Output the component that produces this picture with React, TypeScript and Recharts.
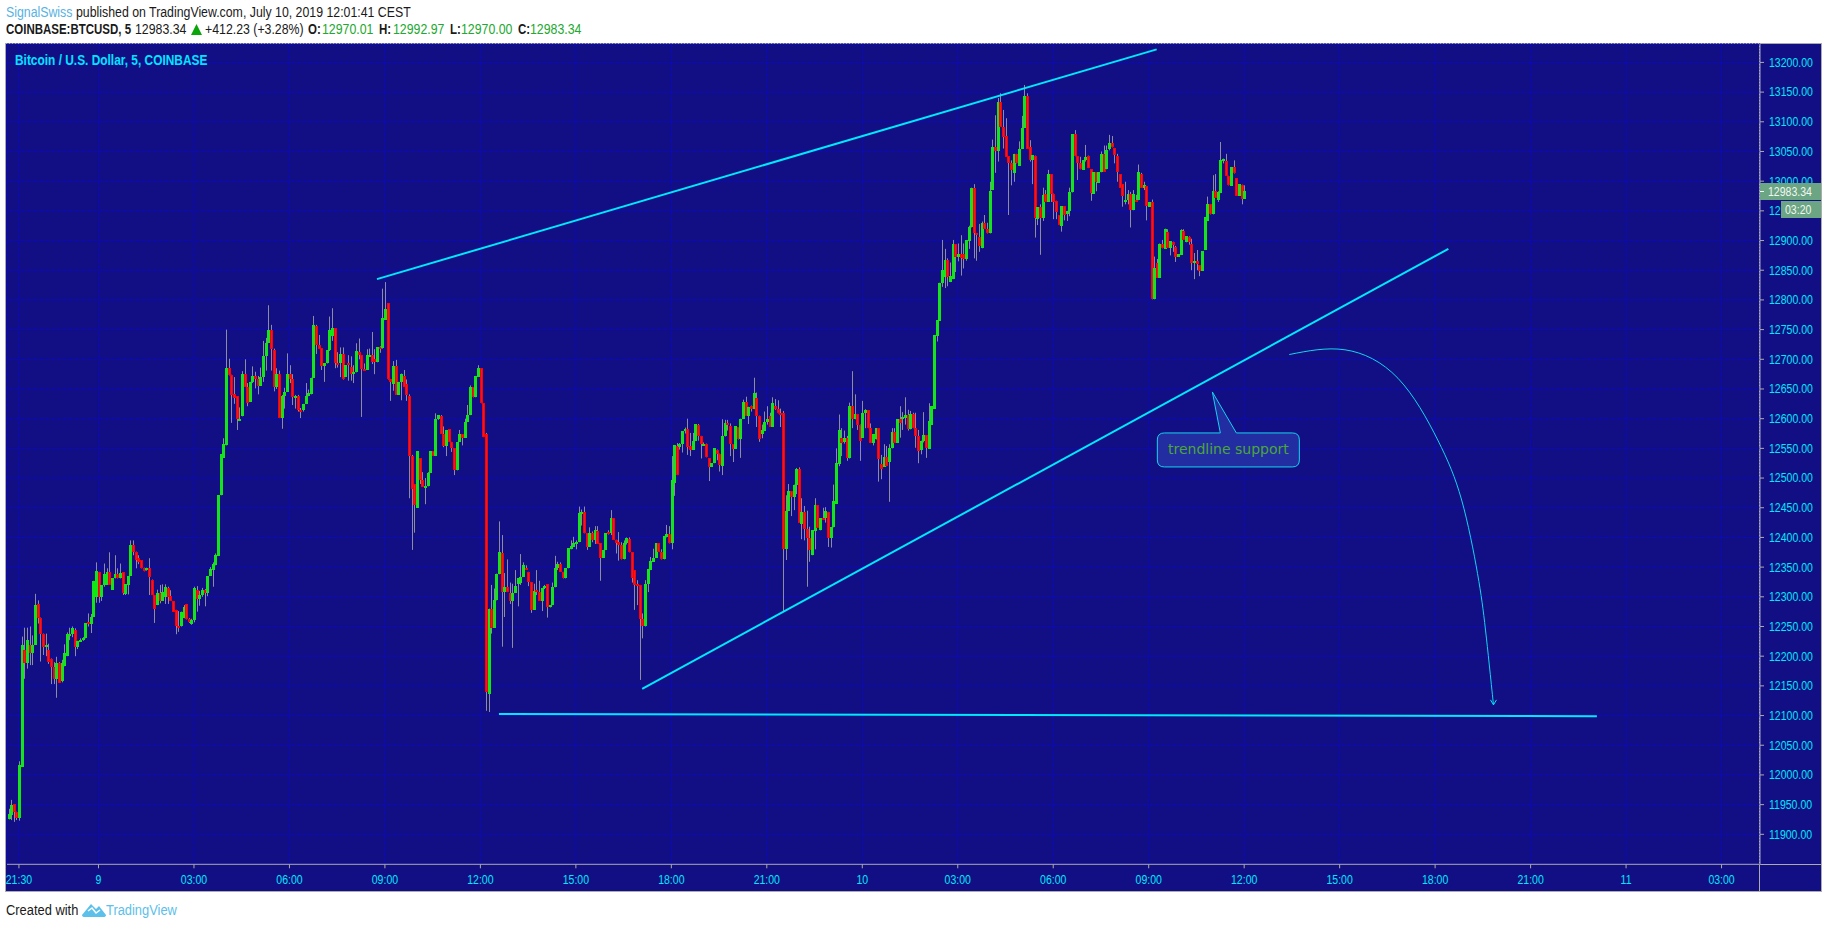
import { Bar, CartesianGrid, ComposedChart, Line, ReferenceDot, ReferenceLine, XAxis, YAxis } from "recharts"

type Ohlc = [number, number, number, number]

// each candle is [open, high, low, close], one list per three hour stretch
const from2110: Ohlc[] = [
  [11925,11943,11925,11934],[11932,11958,11924,11949],[11951,11951,11921,11938],[11938,11938,11924,11928],
  [11928,12023,11923,12016],[12014,12233,12014,12219],[12210,12248,12162,12188],[12188,12248,12179,12228],
  [12219,12250,12185,12206],[12206,12235,12185,12219],[12219,12305,12219,12286],[12288,12294,12255,12265],
  [12265,12265,12191,12238],[12238,12238,12202,12216],[12216,12238,12200,12219],[12210,12221,12187,12191],
  [12196,12196,12153,12181],[12181,12190,12153,12161],[12161,12199,12130,12188],[12188,12190,12155,12155],
  [12158,12194,12156,12188],[12183,12220,12183,12205],[12200,12240,12200,12237],[12237,12248,12227,12238],
  [12237,12250,12232,12247],[12244,12247,12200,12215],[12215,12226,12212,12226],[12226,12230,12224,12228],
  [12228,12232,12226,12230],[12230,12256,12230,12256],[12258,12272,12250,12255],[12255,12271,12239,12266],
  [12266,12327,12266,12327],[12299,12358,12290,12344],
]
const from0000: Ohlc[] = [
  [12342,12342,12290,12299],[12299,12320,12293,12320],[12320,12356,12317,12338],[12320,12348,12320,12341],
  [12341,12375,12320,12320],[12312,12331,12312,12331],[12331,12370,12331,12339],[12339,12348,12331,12331],
  [12332,12356,12331,12340],[12341,12341,12303,12306],[12305,12321,12303,12321],[12320,12335,12304,12335],
  [12335,12395,12335,12387],[12387,12395,12370,12376],[12376,12376,12348,12362],[12365,12370,12355,12359],
  [12362,12362,12348,12348],[12348,12349,12343,12344],[12345,12349,12344,12349],[12348,12365,12303,12334],
  [12329,12329,12303,12303],[12303,12303,12256,12279],[12286,12312,12286,12307],[12307,12320,12289,12293],
  [12293,12321,12293,12308],[12300,12321,12288,12317],[12315,12317,12288,12300],[12301,12311,12293,12293],
  [12293,12293,12275,12275],[12278,12278,12237,12251],[12251,12276,12241,12250],[12250,12275,12250,12275],
  [12264,12286,12264,12283],[12288,12288,12262,12262],[12263,12264,12256,12258],[12254,12263,12253,12261],
]
const from0300a: Ohlc[] = [
  [12261,12317,12257,12315],[12312,12318,12275,12296],[12296,12310,12285,12303],[12303,12315,12300,12311],
  [12311,12313,12284,12307],[12307,12335,12301,12335],[12335,12350,12335,12346],[12345,12358,12317,12355],
  [12353,12373,12353,12370],[12369,12471,12369,12471],[12471,12540,12471,12540],[12534,12567,12534,12557],
  [12555,12750,12555,12685],[12685,12701,12673,12673],[12674,12674,12593,12640],[12641,12670,12625,12635],
  [12638,12638,12581,12599],[12598,12619,12596,12600],[12604,12680,12604,12676],[12676,12700,12654,12654],
  [12654,12660,12621,12626],[12628,12662,12628,12662],[12662,12688,12660,12672],[12672,12679,12651,12666],
  [12666,12672,12641,12655],[12655,12686,12655,12671],[12671,12731,12662,12705],[12705,12736,12681,12728],
  [12728,12791,12728,12750],[12750,12758,12681,12718],[12715,12718,12646,12653],[12653,12685,12650,12675],
  [12675,12681,12601,12601],[12601,12640,12583,12638],[12638,12652,12617,12645],[12645,12710,12645,12676],
]
const from0600a: Ohlc[] = [
  [12676,12690,12660,12666],[12666,12675,12623,12636],[12636,12640,12617,12639],[12638,12640,12612,12615],
  [12615,12618,12601,12612],[12614,12625,12612,12625],[12625,12660,12625,12639],[12639,12649,12638,12643],
  [12641,12669,12641,12669],[12669,12773,12669,12758],[12756,12758,12709,12724],[12724,12741,12718,12718],
  [12719,12719,12682,12689],[12689,12693,12662,12693],[12693,12715,12693,12715],[12715,12772,12714,12749],
  [12740,12786,12731,12752],[12752,12752,12685,12694],[12694,12712,12686,12693],[12693,12720,12670,12709],
  [12709,12720,12666,12666],[12670,12690,12670,12690],[12693,12707,12664,12690],[12687,12705,12664,12676],
  [12676,12690,12660,12678],[12678,12727,12678,12714],[12713,12735,12700,12707],[12707,12707,12603,12683],
  [12684,12693,12682,12682],[12682,12717,12682,12707],[12707,12718,12705,12708],[12708,12746,12692,12695],
  [12701,12717,12675,12695],[12695,12720,12695,12720],[12721,12722,12711,12719],[12719,12819,12718,12769],
]
const from0900a: Ohlc[] = [
  [12767,12830,12767,12784],[12794,12794,12666,12666],[12666,12666,12630,12662],[12658,12697,12647,12688],
  [12688,12699,12640,12640],[12640,12662,12640,12662],[12662,12676,12631,12676],[12672,12682,12654,12654],
  [12658,12666,12630,12640],[12638,12641,12466,12537],[12537,12539,12379,12481],[12490,12490,12408,12454],
  [12450,12545,12450,12545],[12533,12533,12490,12496],[12497,12510,12485,12485],[12485,12500,12456,12486],
  [12486,12510,12486,12509],[12509,12545,12509,12545],[12545,12545,12537,12537],[12537,12609,12537,12599],
  [12599,12606,12598,12606],[12605,12606,12575,12575],[12575,12587,12552,12554],[12554,12581,12537,12581],
  [12582,12582,12561,12561],[12561,12561,12544,12550],[12550,12550,12505,12513],[12513,12560,12513,12560],
  [12561,12581,12561,12574],[12574,12574,12555,12568],[12568,12600,12568,12595],[12595,12623,12595,12607],
  [12606,12656,12606,12653],[12653,12653,12636,12636],[12636,12672,12636,12672],[12671,12690,12671,12685],
]
const from1200a: Ohlc[] = [
  [12685,12685,12626,12626],[12626,12626,12569,12569],[12574,12576,12108,12140],[12137,12280,12106,12280],
  [12280,12320,12238,12248],[12248,12314,12248,12295],[12294,12339,12294,12339],[12338,12427,12338,12375],
  [12373,12404,12216,12308],[12308,12340,12266,12317],[12317,12363,12308,12308],[12306,12324,12288,12293],
  [12293,12322,12214,12307],[12307,12345,12307,12318],[12322,12331,12284,12331],[12323,12372,12320,12334],
  [12334,12358,12334,12353],[12349,12353,12346,12346],[12342,12342,12318,12325],[12325,12325,12273,12278],
  [12278,12322,12278,12310],[12311,12345,12303,12308],[12308,12327,12293,12293],[12293,12315,12276,12315],
  [12315,12320,12313,12318],[12321,12321,12265,12282],[12282,12286,12282,12286],[12286,12324,12286,12316],
  [12316,12369,12316,12349],[12348,12359,12345,12356],[12356,12358,12342,12342],[12342,12342,12331,12331],
  [12331,12348,12331,12348],[12348,12382,12348,12382],[12380,12395,12380,12385],[12384,12401,12384,12391],
]
const from1500a: Ohlc[] = [
  [12391,12395,12380,12393],[12392,12452,12392,12441],[12441,12447,12420,12442],[12442,12452,12407,12407],
  [12407,12407,12379,12384],[12384,12417,12384,12407],[12407,12410,12392,12395],[12395,12419,12389,12412],
  [12411,12419,12389,12389],[12390,12390,12327,12366],[12366,12379,12366,12379],[12379,12407,12379,12407],
  [12409,12412,12405,12407],[12407,12446,12404,12432],[12432,12432,12396,12396],[12396,12396,12373,12391],
  [12392,12409,12361,12387],[12387,12392,12363,12363],[12363,12395,12363,12391],[12390,12400,12388,12399],
  [12398,12400,12375,12375],[12375,12375,12324,12332],[12345,12345,12278,12320],[12322,12328,12286,12320],
  [12320,12320,12160,12262],[12262,12272,12230,12250],[12250,12328,12250,12321],[12321,12347,12308,12347],
  [12345,12367,12345,12360],[12359,12381,12359,12366],[12366,12390,12366,12390],[12390,12390,12376,12376],
  [12376,12380,12363,12363],[12363,12402,12363,12402],[12401,12421,12400,12405],[12405,12419,12390,12390],
]
const from1800a: Ohlc[] = [
  [12390,12537,12380,12496],[12492,12555,12470,12555],[12554,12559,12505,12505],[12552,12559,12548,12557],
  [12557,12579,12543,12579],[12579,12585,12575,12583],[12583,12600,12539,12553],[12554,12576,12537,12548],
  [12548,12576,12548,12562],[12563,12591,12563,12591],[12589,12591,12563,12571],[12571,12571,12533,12557],
  [12557,12560,12556,12558],[12557,12558,12535,12535],[12533,12533,12495,12519],[12519,12525,12519,12525],
  [12525,12550,12525,12550],[12548,12548,12530,12541],[12541,12541,12511,12522],[12521,12599,12505,12570],
  [12570,12598,12570,12592],[12592,12598,12580,12589],[12587,12592,12537,12557],[12557,12557,12527,12549],
  [12549,12587,12549,12587],[12586,12586,12565,12565],[12565,12600,12534,12600],[12600,12632,12600,12628],
  [12628,12637,12605,12605],[12605,12620,12591,12620],[12621,12622,12612,12617],[12616,12669,12616,12644],
  [12635,12644,12586,12605],[12605,12605,12561,12565],[12575,12590,12567,12581],[12580,12612,12580,12595],
]
const from2100a: Ohlc[] = [
  [12595,12621,12590,12600],[12605,12610,12586,12586],[12586,12636,12586,12626],[12621,12633,12615,12616],
  [12616,12631,12609,12609],[12610,12617,12586,12606],[12609,12613,12276,12380],[12380,12471,12362,12445],
  [12445,12490,12445,12478],[12478,12478,12436,12468],[12468,12489,12446,12489],[12489,12517,12473,12515],
  [12515,12518,12425,12425],[12422,12466,12397,12442],[12442,12453,12395,12415],[12415,12445,12317,12399],
  [12399,12418,12359,12378],[12370,12412,12370,12412],[12411,12466,12380,12455],[12454,12454,12416,12416],
  [12412,12432,12412,12432],[12433,12450,12430,12430],[12432,12451,12425,12444],[12443,12443,12384,12399],
  [12399,12417,12383,12417],[12417,12489,12417,12461],[12457,12550,12457,12525],[12523,12607,12520,12581],
  [12568,12584,12537,12559],[12561,12580,12558,12567],[12567,12571,12529,12534],[12533,12627,12533,12621],
  [12621,12680,12584,12599],[12599,12641,12599,12608],[12608,12608,12581,12590],[12590,12590,12529,12563],
]
const from0000b: Ohlc[] = [
  [12568,12630,12568,12610],[12609,12616,12584,12614],[12614,12614,12584,12584],[12584,12592,12559,12559],
  [12559,12574,12555,12574],[12565,12584,12565,12584],[12584,12584,12494,12532],[12523,12539,12498,12515],
  [12519,12557,12519,12536],[12535,12554,12520,12520],[12527,12557,12460,12550],[12550,12584,12550,12577],
  [12577,12584,12559,12559],[12559,12599,12559,12599],[12599,12621,12568,12592],[12599,12611,12581,12602],
  [12601,12636,12590,12606],[12606,12615,12580,12582],[12582,12613,12582,12608],[12608,12610,12584,12584],
  [12585,12610,12551,12571],[12571,12581,12525,12546],[12548,12563,12540,12563],[12563,12611,12560,12572],
  [12572,12572,12534,12551],[12549,12626,12549,12596],[12590,12621,12590,12621],[12617,12741,12617,12741],
  [12739,12766,12730,12766],[12765,12829,12765,12829],[12829,12901,12822,12850],[12839,12886,12820,12868],
  [12867,12870,12823,12839],[12830,12863,12830,12840],[12835,12901,12835,12895],[12894,12894,12847,12872],
]
const from0300b: Ohlc[] = [
  [12872,12895,12865,12877],[12878,12909,12841,12870],[12878,12895,12853,12869],[12869,12901,12866,12901],
  [12900,12925,12886,12922],[12922,12989,12922,12989],[12989,12995,12870,12912],[12912,12912,12866,12909],
  [12906,12928,12881,12891],[12887,12932,12887,12929],[12929,12943,12920,12920],[12920,12930,12912,12912],
  [12912,12999,12912,12984],[12985,13070,12985,13057],[13057,13111,13014,13050],[13050,13140,13033,13134],
  [13134,13148,13092,13092],[13092,13120,13055,13075],[13076,13106,13041,13041],[13042,13042,12943,13030],
  [13030,13035,12993,13018],[13014,13046,12999,13046],[13046,13046,13030,13031],[13026,13067,13026,13055],
  [13055,13110,13055,13090],[13090,13162,13090,13143],[13143,13148,13055,13055],[13057,13069,13033,13035],
  [13035,13044,12995,13044],[13043,13043,12905,12938],[12936,12956,12926,12956],[12956,12961,12876,12938],
  [12938,12989,12933,12977],[12979,12985,12965,12965],[12965,13019,12965,13012],[13012,13012,12965,12979],
]
const from0600b: Ohlc[] = [
  [12979,12979,12936,12965],[12967,12967,12936,12948],[12943,12943,12926,12926],[12925,12958,12915,12958],
  [12958,12958,12934,12943],[12944,12950,12933,12950],[12950,12989,12941,12981],[12981,13079,12981,13079],
  [13079,13086,13042,13042],[13042,13042,13002,13030],[13030,13041,13020,13020],[13019,13035,13019,13035],
  [13035,13061,13033,13040],[13043,13043,13022,13022],[13020,13020,12967,12980],[12979,13015,12979,13015],
  [13015,13015,12983,12998],[12997,13015,12997,13015],[13015,13050,13015,13046],[13046,13060,13016,13016],
  [13020,13060,13020,13052],[13055,13078,13052,13065],[13065,13076,13057,13057],[13056,13056,13030,13044],
  [13043,13046,12999,13016],[13012,13012,12989,12989],[12995,12995,12957,12975],[12965,12999,12961,12969],
  [12969,12985,12961,12979],[12979,12982,12922,12952],[12951,12985,12951,12979],[12968,12977,12965,12965],
  [12968,13028,12968,13015],[13012,13014,12989,12989],[12989,12999,12985,12993],[12992,12992,12934,12959],
]
const from0900b: Ohlc[] = [
  [12957,12965,12957,12965],[12965,12969,12801,12801],[12801,12873,12801,12853],[12863,12869,12837,12837],
  [12837,12895,12837,12895],[12894,12901,12887,12887],[12886,12920,12886,12919],[12914,12919,12888,12888],
  [12888,12899,12875,12899],[12898,12898,12881,12892],[12889,12891,12864,12873],[12873,12877,12873,12877],
  [12876,12919,12876,12918],[12916,12919,12901,12901],[12897,12907,12897,12907],[12906,12907,12893,12897],
  [12895,12903,12850,12863],[12862,12879,12835,12865],[12865,12884,12850,12860],[12858,12858,12840,12849],
  [12849,12882,12849,12882],[12884,12939,12884,12939],[12933,12974,12933,12961],[12961,12961,12944,12944],
  [12944,13010,12944,12984],[12984,13012,12972,12972],[12968,12983,12965,12981],[12980,13066,12980,13036],
  [13036,13038,13030,13037],[13034,13046,13009,13009],[13009,13009,12993,12993],[12992,13024,12992,13024],
  [13024,13035,13013,13013],[13005,13005,12975,12975],[12975,12995,12975,12995],[12994,12994,12961,12970],
  [12970,12993,12970,12983],
]

const candleStretches: [number, Ohlc[]][] = [
  [-4, from2110], [30, from0000], [66, from0300a], [102, from0600a], [138, from0900a], [174, from1200a],
  [210, from1500a], [246, from1800a], [282, from2100a], [318, from0000b], [354, from0300b], [390, from0600b],
  [426, from0900b],
]

const firstSlot = -4
const slotCount = 661

const xTickSlots = [0, 30, 66, 102, 138, 174, 210, 246, 282, 318, 354, 390, 426, 462, 498, 534, 570, 606, 642]
const xTickLabels = ["21:30", "9", "03:00", "06:00", "09:00", "12:00", "15:00", "18:00", "21:00", "10", "03:00", "06:00", "09:00", "12:00", "15:00", "18:00", "21:00", "11", "03:00"]
const priceTicks = [
  11900, 11950, 12000, 12050, 12100, 12150, 12200, 12250, 12300, 12350, 12400, 12450, 12500, 12550,
  12600, 12650, 12700, 12750, 12800, 12850, 12900, 12950, 13000, 13050, 13100, 13150, 13200,
]

// hand drawn projection curve, points kept roughly evenly spaced so the spline stays smooth
const arrowSlots = [479, 500, 520, 535, 544, 550, 553, 556]
const arrowPrices = [12708, 12716, 12668, 12564, 12463, 12339, 12244, 12118]

const rows = Array.from({ length: slotCount }, (_, i) => {
  const slot = firstSlot + i
  const row: any = { slot }
  const at = arrowSlots.indexOf(slot)
  if (at >= 0) row.arrow = arrowPrices[at]
  return row
})
candleStretches.forEach(([start, bars]) => {
  bars.forEach(([open, high, low, close], i) => {
    Object.assign(rows[start + i - firstSlot], { open, high, low, close })
  })
})

const CYAN = "#00e8fa"
const AXIS_GRAY = "#ababab"
const GRID = "#0b09c6"
const sans = '"Liberation Sans", sans-serif'

function Candle(props: any) {
  const { x, y, width, height, payload } = props
  if (!payload || payload.open == null) return null
  const { open, high, low, close } = payload
  const h = Math.abs(height)
  const top = Math.min(y, y + height)
  const unit = h / Math.max(high - low, 1)
  const yOf = (v: number) => top + (high - v) * unit
  const center = Math.round(x + width / 2)
  const up = close >= open
  const bodyTop = Math.round(yOf(Math.max(open, close)))
  const bodyH = Math.max(2, Math.round(yOf(Math.min(open, close))) - bodyTop)
  return (
    <g>
      <rect x={center} y={top} width={1} height={Math.max(h, 1)} fill="#8c8ca0" />
      <rect x={center - 1} y={bodyTop} width={3} height={bodyH} fill={up ? "#10e810" : "#ff0000"} />
      {bodyH > 3 && (
        <rect x={center} y={bodyTop + 1} width={1} height={bodyH - 2} fill={up ? "#1ade2a" : "#e41c2a"} />
      )}
    </g>
  )
}

function ArrowHead(props: any) {
  const { cx, cy, payload } = props
  if (payload.slot !== arrowSlots[arrowSlots.length - 1]) return <g key={payload.slot} />
  return <path key={payload.slot} d={`M${cx - 3},${cy - 5} L${cx},${cy} L${cx + 3},${cy - 5}`} fill="none" stroke={CYAN} />
}

function Callout(props: any) {
  const { cx, cy } = props
  const l = cx - 55, r = cx + 87, t = cy + 41, b = cy + 75, rad = 7
  const d = `M${l + rad},${t} L${cx + 8},${t} L${cx},${cy} L${cx + 24},${t} L${r - rad},${t} Q${r},${t} ${r},${t + rad} L${r},${b - rad} Q${r},${b} ${r - rad},${b} L${l + rad},${b} Q${l},${b} ${l},${b - rad} L${l},${t + rad} Q${l},${t} ${l + rad},${t} Z`
  return (
    <g>
      <path d={d} fill="#232da2" stroke="#14d4ee" strokeWidth={1} />
      <text x={cx + 16} y={cy + 62} textAnchor="middle" fontFamily="'DejaVu Sans', sans-serif" fontSize={14} fill="#4ba53c">
        trendline support
      </text>
    </g>
  )
}

// the reference type is narrower than anything installed, so it gets squeezed sideways
function AxisTick(props: any) {
  const { x, y, payload, textAnchor, tickFormatter, dy = 0 } = props
  const label = tickFormatter ? tickFormatter(payload.value) : payload.value
  return (
    <text
      transform={`translate(${x},${y + dy}) scale(0.81,1)`}
      textAnchor={textAnchor}
      dominantBaseline="central"
      fontFamily={sans}
      fontSize={13}
      fill={CYAN}
    >
      {label}
    </text>
  )
}

function Txt({ x, y, color = "#1a1a1a", size = 14, bold = false, k, children }: any) {
  const squeeze = k ?? (bold ? 0.82 : 0.88)
  return (
    <span style={{ position: "absolute", left: x, top: y, color, fontSize: size, fontWeight: bold ? 700 : 400, lineHeight: "16px", whiteSpace: "nowrap", transform: `scaleX(${squeeze})`, transformOrigin: "left center" }}>
      {children}
    </span>
  )
}

export default function App() {
  const valueGreen = "#22a82e"
  const tagText = "#f2f7f2"
  return (
    <div style={{ position: "absolute", left: 0, top: 0, width: 1828, height: 928, background: "#fff", fontFamily: sans, overflow: "hidden" }}>
      <Txt x={6} y={4} color="#58b2e2">SignalSwiss</Txt>
      <Txt x={76} y={4}>published on TradingView.com, July 10, 2019 12:01:41 CEST</Txt>
      <Txt x={6} y={21} bold>COINBASE:BTCUSD, 5</Txt>
      <Txt x={135} y={21}>12983.34</Txt>
      <svg style={{ position: "absolute", left: 191, top: 24 }} width={11} height={11}>
        <polygon points="5.5,0 11,11 0,11" fill="#0aa50a" />
      </svg>
      <Txt x={205} y={21}>+412.23 (+3.28%)</Txt>
      <Txt x={308} y={21} bold>O:</Txt>
      <Txt x={322} y={21} color={valueGreen}>12970.01</Txt>
      <Txt x={379} y={21} bold>H:</Txt>
      <Txt x={393} y={21} color={valueGreen}>12992.97</Txt>
      <Txt x={450} y={21} bold>L:</Txt>
      <Txt x={461} y={21} color={valueGreen}>12970.00</Txt>
      <Txt x={518} y={21} bold>C:</Txt>
      <Txt x={530} y={21} color={valueGreen}>12983.34</Txt>

      <div style={{ position: "absolute", left: 5, top: 43, width: 1815, height: 847, background: "#120f84", border: `1px solid ${AXIS_GRAY}` }} />
      <div style={{ position: "absolute", left: 1759, top: 44, width: 1, height: 847, background: AXIS_GRAY }} />
      <div style={{ position: "absolute", left: 1760, top: 864, width: 61, height: 1, background: AXIS_GRAY }} />

      <div style={{ position: "absolute", left: 0, top: 0 }}>
        <ComposedChart
          width={1828}
          height={928}
          data={rows}
          margin={{ top: 44, right: 7, bottom: 36.7, left: 7 }}
          barCategoryGap={0}
          barGap={0}
        >
          <CartesianGrid stroke={GRID} strokeDasharray="2 1" />
          <XAxis
            dataKey="slot"
            type="category"
            ticks={xTickSlots}
            interval={0}
            height={27}
            stroke={AXIS_GRAY}
            tickSize={4}
            tickMargin={5}
            tick={<AxisTick dy={6} />}
            tickFormatter={(v: number) => xTickLabels[xTickSlots.indexOf(v)]}
          />
          <YAxis
            orientation="right"
            type="number"
            domain={[11849.5, 13231]}
            allowDataOverflow
            ticks={priceTicks}
            interval={0}
            width={61}
            stroke={AXIS_GRAY}
            tickSize={4}
            tickMargin={5}
            tick={<AxisTick />}
            tickFormatter={(v: number) => v.toFixed(2)}
          />
          <Bar
            dataKey={(d: any) => (d.open == null ? null : [d.low, d.high])}
            shape={<Candle />}
            isAnimationActive={false}
          />
          <ReferenceLine segment={[{ x: 135, y: 12835 }, { x: 429, y: 13222 }]} stroke={CYAN} strokeWidth={2} />
          <ReferenceLine segment={[{ x: 235, y: 12145 }, { x: 539, y: 12886 }]} stroke={CYAN} strokeWidth={2} />
          <ReferenceLine segment={[{ x: 181, y: 12102.5 }, { x: 595, y: 12099 }]} stroke={CYAN} strokeWidth={2} />
          <Line
            dataKey="arrow"
            type="natural"
            connectNulls
            stroke="#14d4ee"
            strokeWidth={1}
            dot={<ArrowHead />}
            activeDot={false}
            isAnimationActive={false}
            legendType="none"
          />
          <ReferenceDot x={450} y={12645} shape={<Callout />} />
        </ComposedChart>
      </div>

      <div style={{ position: "absolute", left: 1760, top: 183, width: 61, height: 17, background: "#6ba583" }} />
      <div style={{ position: "absolute", left: 1760, top: 191, width: 4, height: 1, background: tagText }} />
      <Txt x={1768} y={184} color={tagText} size={13} k={0.81}>12983.34</Txt>
      <div style={{ position: "absolute", left: 1781, top: 201, width: 40, height: 17, background: "#6ba583" }} />
      <Txt x={1785} y={202} color={tagText} size={13} k={0.81}>03:20</Txt>

      <Txt x={15} y={52} color="#00e5ff" size={14} bold k={0.85}>Bitcoin / U.S. Dollar, 5, COINBASE</Txt>
      <Txt x={6} y={902} k={0.92}>Created with</Txt>
      <svg style={{ position: "absolute", left: 82, top: 902 }} width={24} height={15}>
        <path d="M0,13 L9,2 L14,7 L17,4 L24,13 Q24,15 21,15 L3,15 Q0,15 0,13 Z" fill="#5cc0ea" />
        <path d="M6,9 L10,6 L14,11 L18,8" fill="none" stroke="#fff" strokeWidth={1.5} />
      </svg>
      <Txt x={106} y={902} color="#5cc0ea" k={0.92}>TradingView</Txt>
    </div>
  )
}
